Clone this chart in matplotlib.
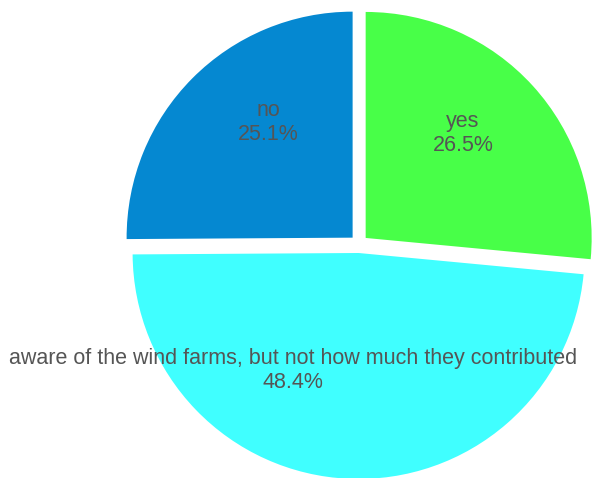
import matplotlib
matplotlib.use("Agg")
import matplotlib.pyplot as plt

plt.rcParams['font.family'] = ['Liberation Sans', 'DejaVu Sans']

labels = ['yes', 'aware of the wind farms, but not how much they contributed', 'no']
values = [26.5, 48.4, 25.1]
colors = ['#48ff48', '#40ffff', '#0588d1']

# label block centres, pixel offsets from the pie centre (x right, y up)
label_offsets = [(104, 110.5), (-66, -126.5), (-91, 121.5)]

W, H = 592, 478
cx, cy, R = 359, 478 - 244, 226
gap = 9  # explode distance in pixels (data units here)

fig = plt.figure(figsize=(W / 100, H / 100), dpi=100)
ax = fig.add_axes([0, 0, 1, 1])
ax.pie(values, colors=colors, startangle=90, counterclock=False,
       explode=[gap] * 3, radius=R, center=(cx, cy),
       wedgeprops=dict(linewidth=0))
ax.set_xlim(0, W)
ax.set_ylim(0, H)
ax.set_aspect('equal')
ax.axis('off')

for lab, val, (dx, dy) in zip(labels, values, label_offsets):
    ax.text(cx + dx, cy + dy, f"{lab}\n{val:.1f}%", ha='center', va='center',
            fontsize=15.5, color='#555555', linespacing=1.2)

fig.savefig('out.png', dpi=100)
